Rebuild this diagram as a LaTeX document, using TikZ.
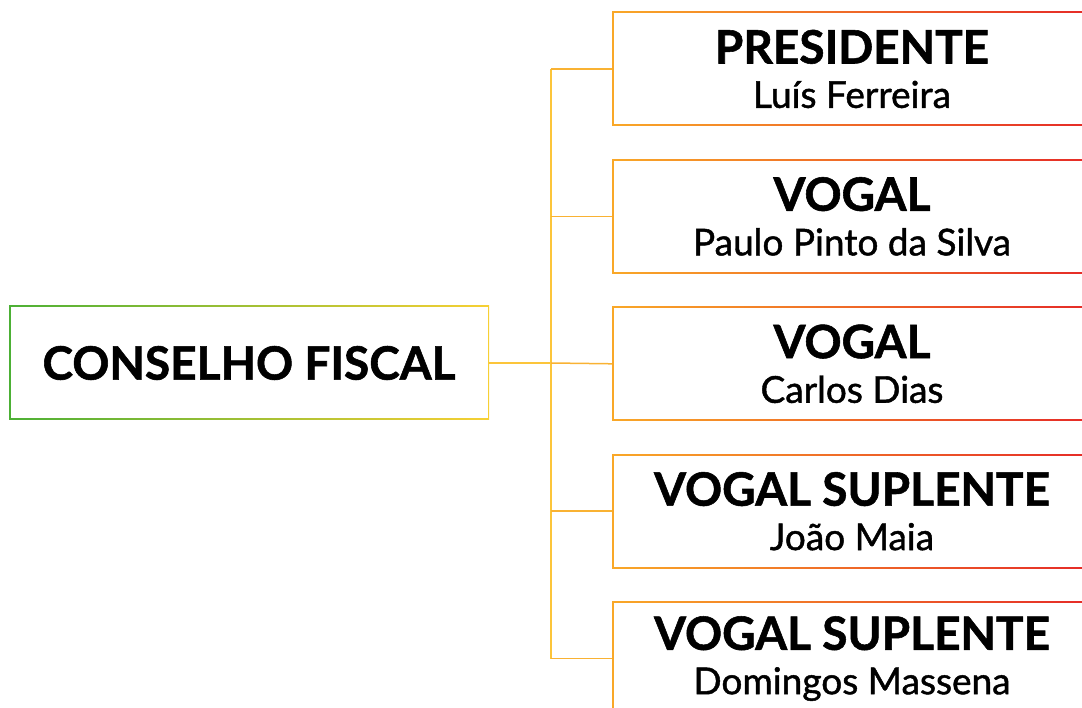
\documentclass[tikz,border=0pt]{standalone}
\usepackage{fontspec}
\setmainfont{Lato}[BoldFeatures={FakeBold=1.2}]
\newfontfamily\namefont{Lato}[FakeBold=1.2]
\usetikzlibrary{positioning}
\definecolor{cfgreen}{HTML}{4CB035}
\definecolor{cfyellow}{HTML}{F7D034}
\definecolor{lnyellow}{HTML}{FCC53A}
\definecolor{lnorange}{HTML}{F9B233}
\definecolor{mborange}{HTML}{F9A828}
\definecolor{mbred}{HTML}{E52A27}
\newcommand{\hd}{\fontsize{46}{46}\selectfont\bfseries}
\newcommand{\nm}{\fontsize{37}{42}\selectfont\namefont}
\tikzstyle{gbox} = [rectangle, minimum width=480pt, minimum height=114pt, inner sep=0pt, text centered, align=center,
  path picture={\fill[white] ([shift={(1.5pt,1.5pt)}]path picture bounding box.south west) rectangle ([shift={(-1.5pt,-1.5pt)}]path picture bounding box.north east);}]
\tikzstyle{board} = [gbox, left color=cfgreen, right color=cfyellow]
\tikzstyle{member} = [gbox, left color=mborange, right color=mbred]
\tikzstyle{link} = [draw=lnyellow, line width=1.5pt]
\tikzstyle{branch} = [draw=lnorange, line width=1.5pt]

\begin{document}
\begin{tikzpicture}[x=1pt, y=-1pt]
\useasboundingbox (0,0) rectangle (1082,708);
\clip (0,0) rectangle (1082,708);
\node (cf) [board] at (249,363) {\hd CONSELHO FISCAL};

\node (pres) [member] at (852,69) {\hd PRESIDENTE\\[16pt]\nm Luís Ferreira};
\node (vog1) [member, below=33pt of pres] {\hd VOGAL\\[16pt]\nm Paulo Pinto da Silva};
\node (vog2) [member, below=33pt of vog1] {\hd VOGAL\\[16pt]\nm Carlos Dias};
\node (sup1) [member, below=33pt of vog2] {\hd VOGAL SUPLENTE\\[16pt]\nm João Maia};
\node (sup2) [member, below=33pt of sup1] {\hd VOGAL SUPLENTE\\[16pt]\nm Domingos Massena};

\coordinate (trunk) at (551,363);
\draw [link] (cf.east) -- (trunk);
\draw [link] (trunk |- pres.west) -- (trunk |- sup2.west);
\draw [branch] (trunk |- pres.west) -- (pres.west);
\draw [branch] (trunk |- vog1.west) -- (vog1.west);
\draw [branch] (trunk) -- (vog2.west);
\draw [branch] (trunk |- sup1.west) -- (sup1.west);
\draw [branch] (trunk |- sup2.west) -- (sup2.west);

\end{tikzpicture}
\end{document}
